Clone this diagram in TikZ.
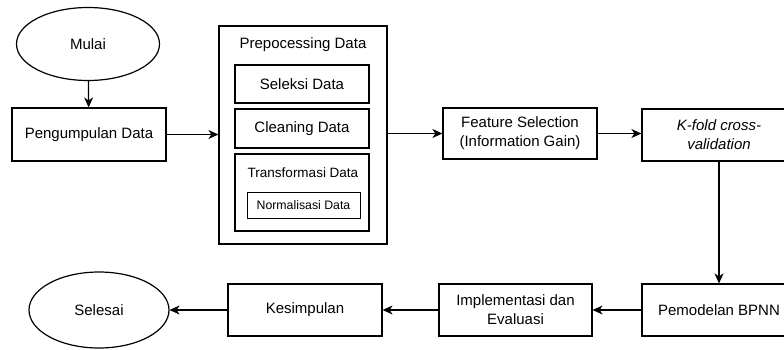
\documentclass[tikz,border=0pt]{standalone}
\usepackage{fontspec}
\setmainfont{Liberation Sans}
\usetikzlibrary{arrows.meta,shapes.geometric}
\tikzset{
  box/.style={draw, line width=1.2pt, inner sep=0pt, align=center, font=\fontsize{15}{19}\selectfont},
  oval/.style={draw, ellipse, line width=1.2pt, inner sep=0pt, font=\fontsize{15}{19}\selectfont},
  arr/.style={line width=1.2pt, -{Stealth[length=10pt,width=9pt,inset=3pt]}},
}
\begin{document}
\begin{tikzpicture}[x=1pt,y=-1pt]
\useasboundingbox (0,0) rectangle (784,349);
\clip (0,0) rectangle (784,349);
\node[oval, minimum width=143pt, minimum height=73pt] (mulai) at (88,44) {Mulai};
\node[box, minimum width=154pt, minimum height=53pt] (kumpul) at (89,134.5) {Pengumpulan Data};
\node[box, minimum width=168pt, minimum height=218pt] (prep) at (303,135) {};
\node[font=\fontsize{15}{19}\selectfont, inner sep=0pt] (preptitle) at (303,45) {Prepocessing Data};
\node[box, minimum width=134pt, minimum height=38pt] (seleksi) at (302,84) {Seleksi Data};
\node[box, minimum width=134pt, minimum height=39pt] (clean) at (302,128.5) {Cleaning Data};
\node[box, minimum width=134pt, minimum height=77pt] (trans) at (302,192.5) {};
\node[font=\fontsize{13.5}{16}\selectfont, inner sep=0pt] (transtitle) at (303,173) {Transformasi Data};
\node[box, line width=1pt, minimum width=113pt, minimum height=26pt, font=\fontsize{12.3}{15}\selectfont] (norm) at (303.5,205) {Normalisasi Data};
\node[box, minimum width=154pt, minimum height=51pt] (feat) at (520,133.5) {Feature Selection\\(Information Gain)};
\node[box, minimum width=154pt, minimum height=52pt, font=\fontsize{15}{19}\selectfont\itshape] (kfold) at (719,135) {K-fold cross-\\validation};
\node[box, minimum width=154pt, minimum height=52pt] (model) at (719,310) {Pemodelan BPNN};
\node[box, minimum width=153pt, minimum height=52pt] (impl) at (515.5,310) {Implementasi dan\\Evaluasi};
\node[box, minimum width=154pt, minimum height=52pt] (kesim) at (305,310) {Kesimpulan};
\node[oval, minimum width=140pt, minimum height=76pt] (selesai) at (99,310) {Selesai};
\draw[arr] (mulai) -- (kumpul);
\draw[arr] (kumpul.east) -- (kumpul.east -| prep.west);
\draw[arr] (prep.east |- feat.west) -- (feat.west);
\draw[arr] (feat.east) -- (feat.east -| kfold.west);
\draw[arr] (kfold) -- (model);
\draw[arr] (model) -- (impl);
\draw[arr] (impl) -- (kesim);
\draw[arr] (kesim) -- (selesai);
\end{tikzpicture}
\end{document}
